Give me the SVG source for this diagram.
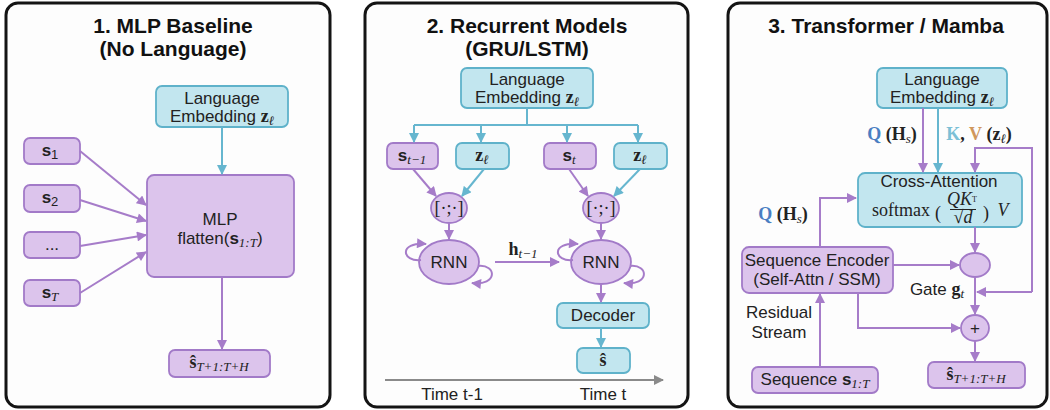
<svg xmlns="http://www.w3.org/2000/svg" width="1050" height="410" viewBox="0 0 1050 410">
<style>
.panel{fill:#fdfdfd;stroke:#141414;stroke-width:3}
.pb{fill:#dcc4ec;stroke:#a27ac8;stroke-width:1.8}
.cb{fill:#c2e6ef;stroke:#5fb2ca;stroke-width:1.8}
.t{font-family:"Liberation Sans",Arial,sans-serif;font-size:17px;fill:#222;text-anchor:middle}
.ttl{font-family:"Liberation Sans",Arial,sans-serif;font-size:21px;font-weight:bold;fill:#111;text-anchor:middle}
.m{font-family:"Liberation Serif","Times New Roman",serif;font-size:18px;fill:#222;text-anchor:middle}
.b{font-weight:bold;font-style:normal}
.i{font-style:italic}
.sub{font-size:13px;font-style:italic}
.ap{fill:none;stroke:#a67cc9;stroke-width:2}
.ac{fill:none;stroke:#66b6cf;stroke-width:2}
.ag{fill:none;stroke:#8a8a8a;stroke-width:2}
</style>
<defs>
<marker id="mp" viewBox="0 0 10 10" refX="9" refY="5" markerWidth="11" markerHeight="10" markerUnits="userSpaceOnUse" orient="auto"><path d="M0,0 L10,5 L0,10 z" fill="#a67cc9"/></marker>
<marker id="mc" viewBox="0 0 10 10" refX="9" refY="5" markerWidth="11" markerHeight="10" markerUnits="userSpaceOnUse" orient="auto"><path d="M0,0 L10,5 L0,10 z" fill="#66b6cf"/></marker>
<marker id="mg" viewBox="0 0 10 10" refX="9" refY="5" markerWidth="12" markerHeight="10" markerUnits="userSpaceOnUse" orient="auto"><path d="M0,0 L10,5 L0,10 z" fill="#8a8a8a"/></marker>
</defs>
<rect width="1050" height="410" fill="#ffffff"/>

<!-- Panel 1 -->
<g id="panel1">
<rect class="panel" x="6" y="3" width="324" height="404" rx="12"/>
<text class="ttl" x="173" y="33">1. MLP Baseline</text>
<text class="ttl" x="173" y="56">(No Language)</text>
</g>
<g id="p1-lang"><rect class="cb" x="156" y="86" width="132" height="41" rx="6"/>
<text class="t" x="222" y="104">Language</text>
<text class="t" x="222" y="122">Embedding <tspan class="m b">z</tspan><tspan class="m sub" dy="3">ℓ</tspan></text></g>
<g id="p1-mlp"><rect class="pb" x="147" y="175" width="147" height="102" rx="7"/>
<text class="t" x="220" y="225">MLP</text>
<text class="t" x="220" y="244">flatten(<tspan class="b">s</tspan><tspan class="m sub" dy="3">1:T</tspan><tspan dy="-3">)</tspan></text></g>
<g id="p1-s1"><rect class="pb" x="24" y="138" width="56" height="26" rx="6"/><text class="t" x="50" y="156"><tspan class="b">s</tspan><tspan font-size="13" dy="3">1</tspan></text></g>
<g id="p1-s2"><rect class="pb" x="24" y="185" width="56" height="27" rx="6"/><text class="t" x="50" y="203"><tspan class="b">s</tspan><tspan font-size="13" dy="3">2</tspan></text></g>
<g id="p1-dots"><rect class="pb" x="24" y="232" width="56" height="26" rx="6"/><text class="t" x="52" y="250">...</text></g>
<g id="p1-sT"><rect class="pb" x="24" y="280" width="56" height="26" rx="6"/><text class="t" x="50" y="298"><tspan class="b">s</tspan><tspan class="m sub" dy="3">T</tspan></text></g>
<g id="p1-out"><rect class="pb" x="169" y="350" width="101" height="27" rx="6"/><text class="m" x="219" y="368"><tspan class="b">ŝ</tspan><tspan class="sub" dy="3">T+1:T+H</tspan></text></g>

<!-- Panel 2 -->
<g id="panel2">
<rect class="panel" x="365" y="3" width="323" height="404" rx="12"/>
<text class="ttl" x="527" y="33">2. Recurrent Models</text>
<text class="ttl" x="527" y="56">(GRU/LSTM)</text>
<text class="t" x="452" y="400">Time t-1</text>
<text class="t" x="603" y="400">Time t</text>
</g>
<g id="p2-lang"><rect class="cb" x="461" y="68" width="132" height="40" rx="6"/>
<text class="t" x="527" y="85">Language</text>
<text class="t" x="527" y="103">Embedding <tspan class="m b">z</tspan><tspan class="m sub" dy="3">ℓ</tspan></text></g>
<g id="p2-stm1"><rect class="pb" x="387" y="143" width="51" height="26" rx="6"/><text class="t" x="412" y="161"><tspan class="b">s</tspan><tspan class="m sub" dy="3">t−1</tspan></text></g>
<g id="p2-z1"><rect class="cb" x="456" y="143" width="53" height="26" rx="6"/><text class="m" x="482" y="161"><tspan class="b">z</tspan><tspan class="sub" dy="3">ℓ</tspan></text></g>
<g id="p2-st"><rect class="pb" x="544" y="143" width="52" height="26" rx="6"/><text class="t" x="569" y="161"><tspan class="b">s</tspan><tspan class="m sub" dy="3">t</tspan></text></g>
<g id="p2-z2"><rect class="cb" x="614" y="143" width="53" height="26" rx="6"/><text class="m" x="640" y="161"><tspan class="b">z</tspan><tspan class="sub" dy="3">ℓ</tspan></text></g>
<g id="p2-cat1"><ellipse class="pb" cx="449" cy="208" rx="18" ry="15"/><text class="m" x="449" y="214">[·;·]</text></g>
<g id="p2-cat2"><ellipse class="pb" cx="601" cy="208" rx="18" ry="15"/><text class="m" x="601" y="214">[·;·]</text></g>
<g id="p2-rnn1"><ellipse class="pb" cx="449" cy="262" rx="30" ry="22"/><text class="t" x="449" y="268">RNN</text></g>
<g id="p2-rnn2"><ellipse class="pb" cx="601" cy="262" rx="30" ry="22"/><text class="t" x="601" y="268">RNN</text></g>
<g id="p2-dec"><rect class="cb" x="557" y="303" width="92" height="25" rx="6"/><text class="t" x="603" y="321">Decoder</text></g>
<g id="p2-out"><rect class="cb" x="577" y="348" width="53" height="25" rx="6"/><text class="m" x="603" y="366"><tspan class="b">ŝ</tspan></text></g>
<text class="m" x="523" y="255"><tspan class="b">h</tspan><tspan class="sub" dy="3">t−1</tspan></text>

<!-- Panel 3 -->
<g id="panel3">
<rect class="panel" x="728" y="3" width="319" height="404" rx="12"/>
<text class="ttl" x="886" y="33">3. Transformer / Mamba</text>
<text class="m" x="892" y="140"><tspan class="b" fill="#4a7ec2">Q</tspan> <tspan class="b">(H</tspan><tspan class="sub" dy="3">s</tspan><tspan class="b" dy="-3">)</tspan></text>
<text class="m" x="979" y="140"><tspan class="b" fill="#7cc0d6">K</tspan><tspan class="b">, </tspan><tspan class="b" fill="#d0975c">V</tspan> <tspan class="b">(z</tspan><tspan class="sub" dy="3">ℓ</tspan><tspan class="b" dy="-3">)</tspan></text>
<text class="m" x="783" y="220"><tspan class="b" fill="#4a7ec2">Q</tspan> <tspan class="b">(H</tspan><tspan class="sub" dy="3">s</tspan><tspan class="b" dy="-3">)</tspan></text>
<text class="t" x="937" y="295">Gate <tspan class="m b">g</tspan><tspan class="m sub" dy="3">t</tspan></text>
<text class="t" x="779" y="318">Residual</text>
<text class="t" x="779" y="338">Stream</text>
</g>
<g id="p3-lang"><rect class="cb" x="877" y="68" width="130" height="40" rx="6"/>
<text class="t" x="942" y="85">Language</text>
<text class="t" x="942" y="103">Embedding <tspan class="m b">z</tspan><tspan class="m sub" dy="3">ℓ</tspan></text></g>
<g id="p3-xattn"><rect class="cb" x="858" y="173" width="164" height="54" rx="7"/>
<text class="t" x="939" y="187">Cross-Attention</text>
<text class="m" x="901" y="216">softmax</text>
<text class="m" x="938" y="219" font-size="22">(</text>
<text class="m" x="962" y="205" font-size="11"><tspan class="i">QK</tspan><tspan font-size="8" dy="-3">T</tspan></text>
<line x1="950" y1="209.5" x2="976" y2="209.5" stroke="#222" stroke-width="1"/>
<text class="m" x="963" y="223" font-size="11">√<tspan class="i">d</tspan></text>
<text class="m" x="986" y="219" font-size="22">)</text>
<text class="m" x="1003" y="216"><tspan class="i">V</tspan></text></g>
<g id="p3-enc"><rect class="pb" x="742" y="247" width="151" height="46" rx="7"/>
<text class="t" x="817" y="266">Sequence Encoder</text>
<text class="t" x="817" y="285">(Self-Attn / SSM)</text></g>
<g id="p3-gate"><ellipse class="pb" cx="975" cy="265" rx="15" ry="12"/></g>
<g id="p3-plus"><ellipse class="pb" cx="975" cy="328" rx="14" ry="13"/><text class="t" x="975" y="334" font-size="18">+</text></g>
<g id="p3-seq"><rect class="pb" x="752" y="367" width="126" height="26" rx="6"/><text class="t" x="815" y="385">Sequence <tspan class="b">s</tspan><tspan class="m sub" dy="3">1:T</tspan></text></g>
<g id="p3-out"><rect class="pb" x="928" y="362" width="97" height="26" rx="6"/><text class="m" x="976" y="380"><tspan class="b">ŝ</tspan><tspan class="sub" dy="3">T+1:T+H</tspan></text></g>

<!-- Connectors -->
<g id="connectors">
<path class="ac" d="M222,127 V174" marker-end="url(#mc)"/>
<path class="ap" d="M80,151 L146,205" marker-end="url(#mp)"/>
<path class="ap" d="M80,200 L146,221" marker-end="url(#mp)"/>
<path class="ap" d="M80,246 L146,235" marker-end="url(#mp)"/>
<path class="ap" d="M80,293 L146,252" marker-end="url(#mp)"/>
<path class="ap" d="M222,277 V349" marker-end="url(#mp)"/>

<path class="ac" d="M527,108 V125 M414,125 H638"/>
<path class="ac" d="M414,125 V142" marker-end="url(#mc)"/>
<path class="ac" d="M481,125 V142" marker-end="url(#mc)"/>
<path class="ac" d="M567,125 V142" marker-end="url(#mc)"/>
<path class="ac" d="M638,125 V142" marker-end="url(#mc)"/>
<path class="ap" d="M413,169 L436,196" marker-end="url(#mp)"/>
<path class="ac" d="M484,169 L462,196" marker-end="url(#mc)"/>
<path class="ap" d="M569,169 L588,196" marker-end="url(#mp)"/>
<path class="ac" d="M640,169 L614,196" marker-end="url(#mc)"/>
<path class="ap" d="M449,223 V239" marker-end="url(#mp)"/>
<path class="ap" d="M601,223 V239" marker-end="url(#mp)"/>
<path class="ap" d="M421,260 C402,262 398,242 426,244" marker-end="url(#mp)"/>
<path class="ap" d="M478,266 C497,264 498,286 472,283" marker-end="url(#mp)"/>
<path class="ap" d="M573,260 C554,262 550,242 578,244" marker-end="url(#mp)"/>
<path class="ap" d="M630,266 C649,264 650,286 624,283" marker-end="url(#mp)"/>
<path class="ap" d="M495,262 H559" marker-end="url(#mp)"/>
<path class="ap" d="M601,284 V302" marker-end="url(#mp)"/>
<path class="ac" d="M601,328 V347" marker-end="url(#mc)"/>
<path class="ag" d="M385,380 H663" marker-end="url(#mg)"/>

<path class="ap" d="M923,108 V172" marker-end="url(#mp)"/>
<path class="ac" d="M938,108 V172" marker-end="url(#mc)"/>
<path class="ap" d="M1032,292 V148 H975 V172" marker-end="url(#mp)"/>
<path class="ap" d="M1032,292 H977" marker-end="url(#mp)"/>
<path class="ap" d="M820,247 V198 H856" marker-end="url(#mp)"/>
<path class="ap" d="M893,265 H959" marker-end="url(#mp)"/>
<path class="ap" d="M975,227 V252" marker-end="url(#mp)"/>
<path class="ap" d="M975,277 V314" marker-end="url(#mp)"/>
<path class="ap" d="M858,293 V328 H960" marker-end="url(#mp)"/>
<path class="ap" d="M975,341 V361" marker-end="url(#mp)"/>
<path class="ap" d="M820,367 V294" marker-end="url(#mp)"/>
</g>
</svg>
